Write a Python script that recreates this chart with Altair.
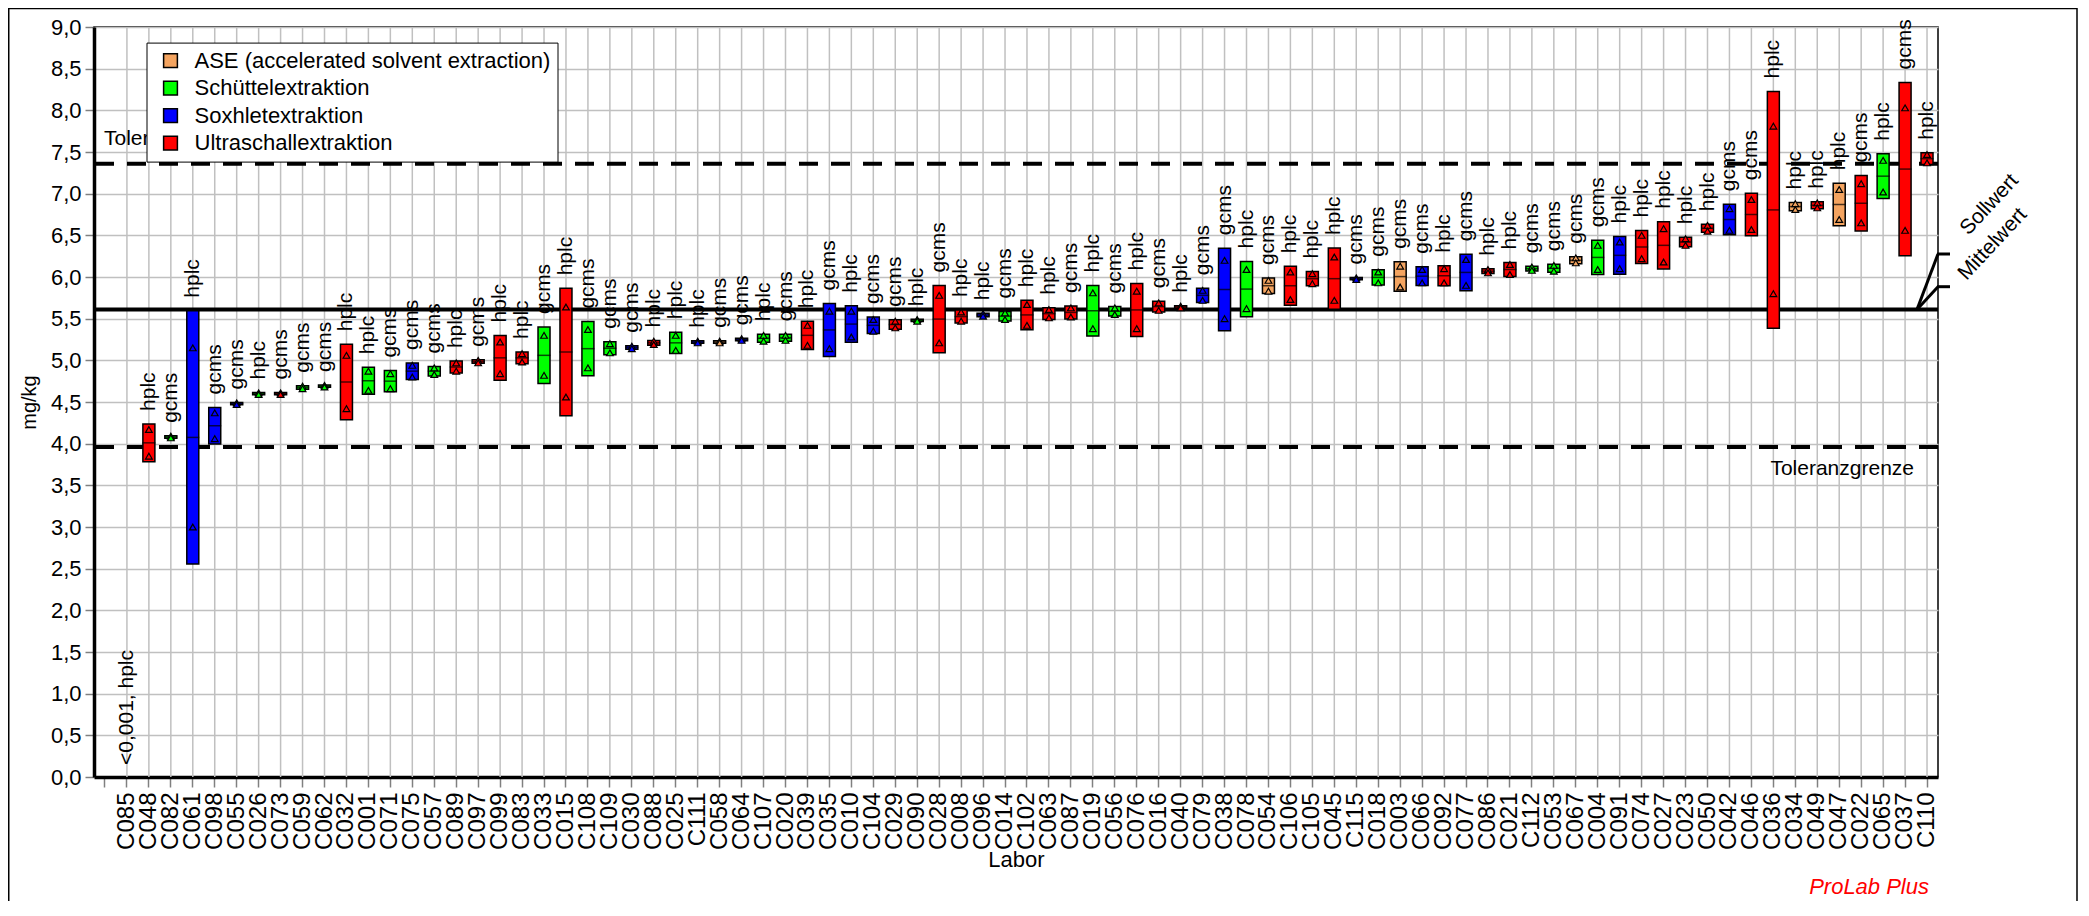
import altair as alt
import pandas as pd

FONT = "Liberation Sans"

LABS = ["C085","C048","C082","C061","C098","C055","C026","C073","C059","C062",
        "C032","C001","C071","C075","C057","C089","C097","C099","C083","C033",
        "C015","C108","C109","C030","C088","C025","C111","C058","C064","C107",
        "C020","C039","C035","C010","C104","C029","C090","C028","C008","C096",
        "C014","C102","C063","C087","C019","C056","C076","C016","C040","C079",
        "C038","C078","C054","C106","C105","C045","C115","C018","C003","C066",
        "C092","C077","C086","C021","C112","C053","C067","C004","C091","C074",
        "C027","C023","C050","C042","C046","C036","C034","C049","C047","C022",
        "C065","C037","C110"]

# A = ASE, S = Schüttel, X = Soxhlet, U = Ultraschall
METHOD = [None,"U","S","X","X","X","S","U","S","S",
          "U","S","S","X","S","U","U","U","U","S",
          "U","S","S","X","U","S","X","A","X","S",
          "S","U","X","X","X","U","S","U","U","X",
          "S","U","U","U","S","S","U","U","U","X",
          "X","S","A","U","U","U","X","S","A","X",
          "U","X","U","U","S","S","A","S","X","U",
          "U","U","U","X","U","U","A","U","A","U",
          "S","U","U"]

DET = ["hplc","hplc","gcms","hplc","gcms","gcms","hplc","gcms","gcms","gcms",
       "hplc","hplc","gcms","gcms","gcms","hplc","gcms","hplc","hplc","gcms",
       "hplc","gcms","gcms","gcms","hplc","hplc","hplc","gcms","gcms","hplc",
       "gcms","hplc","gcms","hplc","gcms","gcms","hplc","gcms","hplc","hplc",
       "gcms","hplc","hplc","gcms","hplc","gcms","hplc","gcms","hplc","gcms",
       "gcms","hplc","gcms","hplc","hplc","hplc","gcms","gcms","gcms","gcms",
       "hplc","gcms","hplc","hplc","gcms","gcms","gcms","gcms","hplc","hplc",
       "hplc","hplc","hplc","gcms","gcms","hplc","hplc","hplc","hplc","gcms",
       "hplc","gcms","hplc"]

V1 = [None,4.17,4.09,5.15,4.37,4.49,4.61,4.61,4.69,4.70,
      5.06,4.87,4.84,4.94,4.91,4.97,5.00,5.22,5.08,5.30,
      5.64,5.37,5.20,5.17,5.23,5.30,5.23,5.23,5.26,5.30,
      5.30,5.42,5.59,5.59,5.49,5.47,5.49,5.78,5.58,5.56,
      5.57,5.67,5.61,5.63,5.81,5.63,5.83,5.69,5.65,5.84,
      6.20,6.09,5.96,6.06,6.04,6.24,5.99,6.06,6.13,6.09,
      6.10,6.21,6.09,6.15,6.12,6.14,6.23,6.38,6.42,6.50,
      6.58,6.46,6.62,6.82,6.93,7.81,6.88,6.89,7.05,7.12,
      7.40,8.03,7.47]

V2 = [None,3.85,4.07,3.00,4.06,4.47,4.59,4.59,4.66,4.68,
      4.42,4.64,4.66,4.80,4.83,4.87,4.97,4.84,4.98,4.82,
      4.56,4.91,5.09,5.14,5.19,5.12,5.21,5.21,5.24,5.23,
      5.24,5.18,5.14,5.28,5.35,5.39,5.47,5.21,5.47,5.53,
      5.49,5.42,5.51,5.52,5.38,5.55,5.38,5.60,5.63,5.72,
      5.50,5.62,5.83,5.73,5.92,5.72,5.97,5.93,5.88,5.93,
      5.93,5.90,6.05,6.03,6.08,6.07,6.17,6.09,6.10,6.22,
      6.18,6.38,6.55,6.56,6.57,5.80,6.81,6.83,6.69,6.65,
      7.02,6.56,7.37]

METHOD_NAMES = {"A": "ASE (accelerated solvent extraction)",
                "S": "Schüttelextraktion",
                "X": "Soxhletextraktion",
                "U": "Ultraschallextraktion"}
METHOD_ORDER = [METHOD_NAMES[k] for k in ["A", "S", "X", "U"]]
COLORS = ["#F4A460", "#00FF00", "#0000FF", "#FF0000"]

UPPER = 7.36
LOWER = 3.96
MEAN = 5.61
BDL_TEXT = "<0,001, hplc"
Y_TICKS = [0.0, 0.5, 1.0, 1.5, 2.0, 2.5, 3.0, 3.5, 4.0, 4.5,
           5.0, 5.5, 6.0, 6.5, 7.0, 7.5, 8.0, 8.5, 9.0]

rows = []
for lab, m, d, a, b in zip(LABS, METHOD, DET, V1, V2):
    if a is None:
        continue
    for v in (a, b):
        rows.append({"lab": lab, "method": METHOD_NAMES[m], "det": d, "value": v})
df = pd.DataFrame(rows)
dummy = pd.DataFrame({"k": [0]})

xscale = alt.Scale(domain=[" "] + LABS, paddingInner=0, paddingOuter=0)
xaxis = alt.Axis(title="Labor", labelAngle=270, labelFontSize=24, labelColor="black",
                 labelPadding=5, tickSize=10, tickColor="#808080", tickWidth=1.5,
                 domainColor="black", domainWidth=3.5, grid=False, titleFontSize=22,
                 titleFontWeight="normal", titleColor="black", titlePadding=0,
                 labelOverlap=False, labelLimit=200)
X = alt.X("lab:N", scale=xscale, axis=xaxis, sort=None)

yscale = alt.Scale(domain=[0, 9], nice=False, zero=False)
yaxis = alt.Axis(title="mg/kg", values=Y_TICKS,
                 labelExpr="replace(format(datum.value, '.1f'), '.', ',')",
                 labelFontSize=22, labelColor="black", labelPadding=4, tickSize=9,
                 tickColor="#808080", tickWidth=1.5, domainColor="black", domainWidth=3.5,
                 grid=True, gridColor="#c0c0c0", gridWidth=1.5, titleFontSize=20,
                 titleFontWeight="normal", titleColor="black", titlePadding=11)


def Y(field):
    return alt.Y(field, scale=yscale, axis=yaxis)


def ydat(v):
    return alt.YDatum(v, type="quantitative", scale=yscale, axis=yaxis)


color_scale = alt.Scale(domain=METHOD_ORDER, range=COLORS)
legend = alt.Legend(title=None, orient="none", legendX=52.5, legendY=15.6,
                    symbolType="square", symbolSize=190, symbolStrokeColor="black",
                    symbolStrokeWidth=1.5, labelFontSize=22, labelColor="black",
                    labelLimit=600, padding=7, rowPadding=5.5, symbolOffset=6,
                    labelOffset=13, fillColor="white", strokeColor="black", zindex=1)

summary = alt.Chart(df).transform_aggregate(
    avg="mean(value)", sd="stdev(value)", groupby=["lab", "method", "det"]
).transform_calculate(lo="datum.avg - datum.sd", hi="datum.avg + datum.sd")

vgrid = alt.Chart(pd.DataFrame({"lab": LABS})).mark_rule(
    color="#c0c0c0", strokeWidth=1.5).encode(x=X)

tol_lines = alt.Chart(pd.DataFrame({"v": [UPPER, LOWER]})).mark_rule(
    color="black", strokeWidth=4, strokeDash=[19, 13]).encode(y=Y("v:Q"))
mean_line = alt.Chart(pd.DataFrame({"v": [MEAN]})).mark_rule(
    color="black", strokeWidth=4).encode(y=Y("v:Q"))

tol_up_txt = alt.Chart(dummy).mark_text(
    text="Toleranzgrenze", align="left", baseline="middle", dy=-25, fontSize=21,
    color="black").encode(x=alt.value(10), y=ydat(UPPER))
tol_lo_txt = alt.Chart(dummy).mark_text(
    text="Toleranzgrenze", align="right", baseline="middle", dy=22, fontSize=21,
    color="black").encode(x=alt.value(1820), y=ydat(LOWER))

bars = summary.mark_bar(size=12, stroke="black", strokeWidth=1.5).encode(
    x=X, y=Y("lo:Q"), y2="hi:Q",
    color=alt.Color("method:N", scale=color_scale, legend=legend))
medians = summary.mark_tick(size=13, thickness=1.5, color="black").encode(
    x=X, y=Y("avg:Q"))
points = alt.Chart(df).mark_point(
    shape="triangle-up", filled=True, size=45, stroke="black", strokeWidth=1.2,
    opacity=1).encode(
    x=X, y=Y("value:Q"),
    fill=alt.Fill("method:N", scale=color_scale, legend=None))
labels = summary.mark_text(
    angle=270, align="left", baseline="middle", dx=13, fontSize=21,
    color="black").encode(x=X, y=Y("hi:Q"), text="det:N")

bdl = alt.Chart(pd.DataFrame({"lab": [LABS[0]], "txt": [BDL_TEXT]})).mark_text(
    angle=270, align="left", baseline="middle", dx=12, fontSize=21,
    color="black").encode(x=X, y=ydat(0), text="txt:N")

lead1 = alt.Chart(dummy).mark_rule(color="black", strokeWidth=3).encode(
    x=alt.value(1823), x2=alt.value(1844), y=alt.value(282.5), y2=alt.value(227))
lead2 = alt.Chart(dummy).mark_rule(color="black", strokeWidth=3).encode(
    x=alt.value(1823), x2=alt.value(1844), y=alt.value(282.5), y2=alt.value(259.7))
lead3 = alt.Chart(dummy).mark_rule(color="black", strokeWidth=3).encode(
    x=alt.value(1843), x2=alt.value(1856), y=alt.value(227))
lead4 = alt.Chart(dummy).mark_rule(color="black", strokeWidth=3).encode(
    x=alt.value(1843), x2=alt.value(1856), y=alt.value(259.7))
soll = alt.Chart(dummy).mark_text(
    text="Sollwert", angle=313, align="left", baseline="middle", fontSize=21,
    color="black").encode(x=alt.value(1870), y=alt.value(205))
mittel = alt.Chart(dummy).mark_text(
    text="Mittelwert", angle=313, align="left", baseline="middle", fontSize=21,
    color="black").encode(x=alt.value(1868), y=alt.value(250))

prolab = alt.Chart(dummy).mark_text(
    text="ProLab Plus", align="right", baseline="middle", fontSize=22,
    fontStyle="italic", color="#FF0000").encode(x=alt.value(1835), y=alt.value(860))

frame = alt.Chart(dummy).mark_rect(filled=False, stroke="black", strokeWidth=1.5,
                                   color="black").encode(
    x=alt.value(-85.25), x2=alt.value(1983), y=alt.value(-18.5), y2=alt.value(1000))

chart = alt.layer(
    vgrid, tol_lines, mean_line, tol_up_txt, tol_lo_txt,
    bars, medians, points, labels, bdl,
    lead1, lead2, lead3, lead4, soll, mittel, prolab, frame
).properties(
    width=1844, height=750,
    padding={"left": 86, "top": 19, "right": 140, "bottom": 124},
    autosize=alt.AutoSizeParams(type="none"),
    background="white",
).configure(font=FONT).configure_view(stroke="black", strokeWidth=1.5)

chart.save("out.html", embed_options={"renderer": "svg", "actions": False})
